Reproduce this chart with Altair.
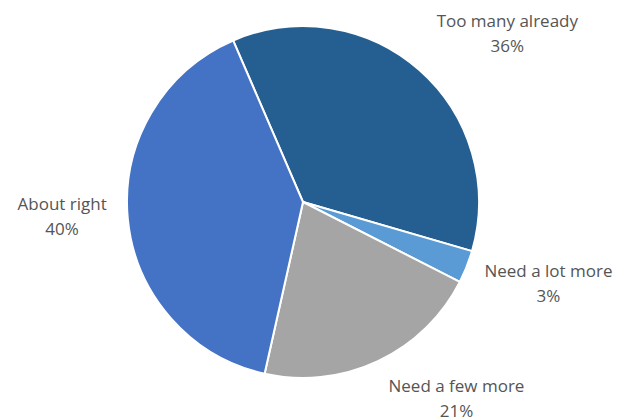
import math
import altair as alt
import pandas as pd

categories = ["Too many already", "Need a lot more", "Need a few more", "About right"]
values = [36, 3, 21, 40]
colors = ["#255E91", "#5B9BD5", "#A5A5A5", "#4472C4"]

df = pd.DataFrame({
    "category": categories,
    "value": values,
    "order": list(range(len(categories))),
})
df["label"] = [f"{c}\n{v}%" for c, v in zip(categories, values)]

total = sum(values)
start = math.radians(-23.4)
theta_scale = alt.Scale(domain=[0, total], range=[start, start + 2 * math.pi])

CX, CY, R = 295, 194, 176

base = alt.Chart(df)

arcs = base.mark_arc(outerRadius=R, stroke="white", strokeWidth=2).encode(
    theta=alt.Theta("value:Q", stack=True, scale=theta_scale),
    color=alt.Color("category:N", scale=alt.Scale(domain=categories, range=colors), legend=None),
    order=alt.Order("order:Q"),
    x=alt.value(CX),
    y=alt.value(CY),
)

# label nudges (Excel-style outside-end placement)
label_style = {
    "Too many already": dict(dx=39, dy=13),
    "Need a lot more": dict(dx=13, dy=-17),
    "Need a few more": dict(dx=47, dy=-36),
    "About right": dict(dx=8, dy=-16),
}

layers = [arcs]
for c in categories:
    s = label_style[c]
    t = (
        base.transform_window(cum="sum(value)", sort=[alt.SortField("order")])
        .transform_calculate(mid="datum.cum - datum.value / 2")
        .transform_filter(alt.datum.category == c)
        .mark_text(radius=250, lineBreak="\n", font="Open Sans", fontSize=17,
                   lineHeight=25, color="#555555", align="center",
                   baseline="alphabetic", **s)
        .encode(
            theta=alt.Theta("mid:Q", scale=theta_scale),
            text="label:N",
            x=alt.value(CX),
            y=alt.value(CY),
        )
    )
    layers.append(t)

chart = (
    alt.layer(*layers)
    .properties(width=614, height=409, padding=0, autosize=alt.AutoSizeParams(type="none"),
                background="white")
    .configure_view(stroke=None)
)

chart.save("out.html", embed_options={"renderer": "svg", "actions": False})
